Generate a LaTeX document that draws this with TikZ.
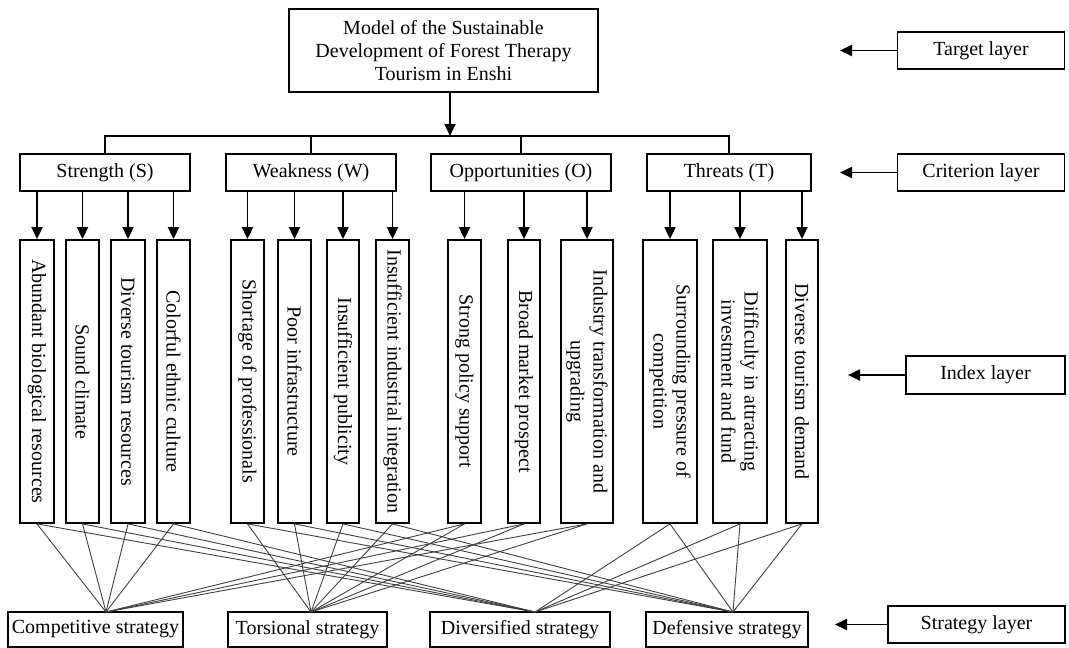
\documentclass[tikz,border=0pt]{standalone}
\usepackage{fontspec}
\setmainfont{Liberation Serif}
\usetikzlibrary{arrows.meta}
\begin{document}
\begin{tikzpicture}[x=1pt,y=-1pt,
  box/.style={draw,line width=1.8pt,inner sep=0pt,align=center,font=\fontsize{20}{23}\selectfont},
  ibox/.style={box,rotate=-90,minimum width=283pt},
  arr/.style={line width=1.8pt,-{Triangle[length=12pt,width=11pt]}},
  busline/.style={line width=1.8pt},
  link/.style={line width=0.9pt,black!75}]
\useasboundingbox (0,0) rectangle (1069,648);

% target
\node[box,minimum width=309pt,minimum height=83pt] (top) at (443.5,50.5)
  {Model of the Sustainable\\Development of Forest Therapy\\Tourism in Enshi};

% criterion layer
\node[box,minimum width=170pt,minimum height=37pt] (S) at (105,172.5) {Strength (S)};
\node[box,minimum width=170pt,minimum height=37pt] (W) at (311,172.5) {Weakness (W)};
\node[box,minimum width=180pt,minimum height=37pt] (O) at (521,172.5) {Opportunities (O)};
\node[box,minimum width=164pt,minimum height=37pt] (T) at (729,172.5) {Threats (T)};

\coordinate (bus) at (450,136);
\draw[busline] (S.north) -- (S.north |- bus) -- (T.north |- bus) -- (T.north);
\draw[busline] (W.north) -- (W.north |- bus);
\draw[busline] (O.north) -- (O.north |- bus);
\draw[arr] (top.south -| bus) -- (bus);

% index layer
\node[ibox,minimum height=34pt] (i1) at (37,381.5) {Abundant biological resources};
\node[ibox,minimum height=33pt] (i2) at (82.5,381.5) {Sound climate};
\node[ibox,minimum height=34pt] (i3) at (128,381.5) {Diverse tourism resources};
\node[ibox,minimum height=33pt] (i4) at (173.5,381.5) {Colorful ethnic culture};
\node[ibox,minimum height=33pt] (i5) at (247.5,381.5) {Shortage of professionals};
\node[ibox,minimum height=33pt] (i6) at (294.5,381.5) {Poor infrastructure};
\node[ibox,minimum height=32pt] (i7) at (343,381.5) {Insufficient publicity};
\node[ibox,minimum height=33pt] (i8) at (392.5,381.5) {Insufficient industrial integration};
\node[ibox,minimum height=33pt] (i9) at (464.5,381.5) {Strong policy support};
\node[ibox,minimum height=32pt] (i10) at (524,381.5) {Broad market prospect};
\node[ibox,minimum height=52pt] (i11) at (587,381.5) {Industry transformation and\\upgrading};
\node[ibox,minimum height=54pt] (i12) at (670,381.5) {Surrounding pressure of\\competition};
\node[ibox,minimum height=54pt] (i13) at (740,381.5) {Difficulty in attracting\\investment and fund};
\node[ibox,minimum height=32pt] (i14) at (802,381.5) {Diverse tourism demand};

\foreach \i in {1,2,3,4} {\draw[arr] (S.south -| i\i.west) -- (i\i.west);}
\foreach \i in {5,6,7,8} {\draw[arr] (W.south -| i\i.west) -- (i\i.west);}
\foreach \i in {9,10,11} {\draw[arr] (O.south -| i\i.west) -- (i\i.west);}
\foreach \i in {12,13,14} {\draw[arr] (T.south -| i\i.west) -- (i\i.west);}

% strategy layer
\node[box,minimum width=175pt,minimum height=35pt] (comp) at (95.5,629.5) {Competitive strategy};
\node[box,minimum width=159pt,minimum height=35pt] (tors) at (307.5,629.5) {Torsional strategy};
\node[box,minimum width=180pt,minimum height=35pt] (div) at (520,629.5) {Diversified strategy};
\node[box,minimum width=162pt,minimum height=35pt] (def) at (727,629.5) {Defensive strategy};

\coordinate (pC) at (106,612);
\coordinate (pT) at (311,612);
\coordinate (pD) at (535,612);
\coordinate (pF) at (733,612);

\foreach \i in {1,2,3,4} {\draw[link] (i\i.east) -- (pC); \draw[link] (i\i.east) -- (pD);}
\foreach \i in {5,6,7,8} {\draw[link] (i\i.east) -- (pT); \draw[link] (i\i.east) -- (pF);}
\foreach \i in {9,10,11} {\draw[link] (i\i.east) -- (pC); \draw[link] (i\i.east) -- (pT);}
\foreach \i in {12,13,14} {\draw[link] (i\i.east) -- (pD); \draw[link] (i\i.east) -- (pF);}

% layer labels
\node[box,minimum width=167pt,minimum height=37pt] (tl) at (981,50.5) {Target layer};
\node[box,minimum width=167pt,minimum height=37pt] (cl) at (981,172.5) {Criterion layer};
\node[box,minimum width=159pt,minimum height=38pt] (il) at (985.5,375) {Index layer};
\node[box,minimum width=177pt,minimum height=37pt] (sl) at (976.5,624.5) {Strategy layer};

\coordinate (a1) at (840,50.5);
\coordinate (a2) at (840,172.5);
\coordinate (a3) at (848,375);
\coordinate (a4) at (835,624.5);
\draw[arr] (tl.west) -- (a1);
\draw[arr] (cl.west) -- (a2);
\draw[arr] (il.west) -- (a3);
\draw[arr] (sl.west) -- (a4);
\end{tikzpicture}
\end{document}
